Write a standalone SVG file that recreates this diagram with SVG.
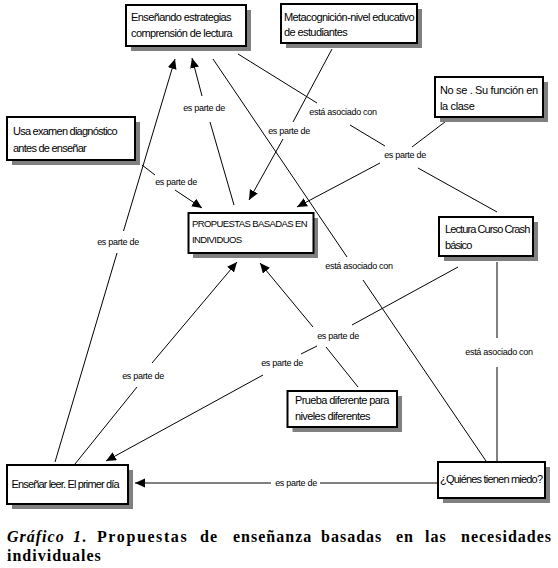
<svg xmlns="http://www.w3.org/2000/svg" width="558" height="568" viewBox="0 0 558 568">
<style>
.bg{fill:#fff}
.sh{fill:#808080}
.bx{fill:#fff;stroke:#000;stroke-width:2}
.nt{font-family:"Liberation Sans",Arial,sans-serif;font-size:11px;letter-spacing:-0.6px;fill:#000}
.sm{font-size:9.5px}
.ln{stroke:#000;stroke-width:1;fill:none}
.ar{marker-end:url(#arrow)}
.lb{font-family:"Liberation Sans",Arial,sans-serif;font-size:9px;letter-spacing:-0.3px;fill:#000;text-anchor:middle}
.cap{font-family:"Liberation Serif","Times New Roman",serif;font-size:16px;font-weight:bold;letter-spacing:1px;fill:#000}
</style>
<defs>
<marker id="arrow" markerUnits="userSpaceOnUse" markerWidth="11" markerHeight="10" refX="10" refY="4.5" orient="auto">
<path d="M0,0 L10,4.5 L0,9 z" fill="#000"/>
</marker>
</defs>
<rect class="bg" x="0" y="0" width="558" height="568"/>

<g id="connectors">
<!-- Usa examen -> PROPUESTAS -->
<line class="ln" x1="142" y1="165" x2="155" y2="175"/>
<line class="ln ar" x1="175" y1="190" x2="202" y2="208"/>
<text class="lb" x="176" y="185">es parte de</text>
<!-- Enseñar leer -> Enseñando (long) -->
<line class="ln" x1="55" y1="462" x2="117" y2="253"/>
<line class="ln ar" x1="123.5" y1="231" x2="175" y2="59"/>
<text class="lb" x="118" y="245">es parte de</text>
<!-- PROPUESTAS -> Enseñando -->
<line class="ln" x1="234" y1="205" x2="210" y2="122"/>
<line class="ln ar" x1="202" y1="96" x2="192" y2="58"/>
<text class="lb" x="204" y="111">es parte de</text>
<!-- Enseñando -> Lectura -->
<line class="ln" x1="238" y1="54" x2="317" y2="103"/>
<line class="ln" x1="350" y1="125" x2="385" y2="146"/>
<line class="ln" x1="418" y1="168" x2="497" y2="212"/>
<text class="lb" x="343" y="115">está asociado con</text>
<!-- No se -> PROPUESTAS -->
<line class="ln" x1="458" y1="112" x2="412" y2="147"/>
<line class="ln ar" x1="380" y1="163" x2="297" y2="207"/>
<text class="lb" x="405" y="158">es parte de</text>
<!-- Metacognicion -> PROPUESTAS -->
<line class="ln" x1="332" y1="49" x2="293" y2="122"/>
<line class="ln ar" x1="283" y1="139" x2="249" y2="200"/>
<text class="lb" x="289" y="134">es parte de</text>
<!-- Enseñando -> Quienes -->
<line class="ln" x1="213" y1="59" x2="347" y2="257"/>
<line class="ln" x1="363" y1="280" x2="486" y2="461"/>
<text class="lb" x="359" y="269">está asociado con</text>
<!-- Lectura -> Enseñar leer -->
<line class="ln" x1="458" y1="267" x2="352" y2="325"/>
<line class="ln" x1="317" y1="346" x2="301" y2="354"/>
<line class="ln ar" x1="263" y1="375" x2="106" y2="461"/>
<text class="lb" x="338" y="339">es parte de</text>
<text class="lb" x="282" y="366">es parte de</text>
<!-- Prueba -> PROPUESTAS -->
<line class="ln" x1="358" y1="387" x2="326" y2="347"/>
<line class="ln ar" x1="313" y1="327" x2="260" y2="263"/>
<!-- Enseñar leer -> PROPUESTAS -->
<line class="ln" x1="75" y1="464" x2="137" y2="387"/>
<line class="ln ar" x1="152" y1="363" x2="237" y2="262"/>
<text class="lb" x="143" y="379">es parte de</text>
<!-- Quienes -> Enseñar leer -->
<line class="ln" x1="438" y1="483" x2="320" y2="483"/>
<line class="ln ar" x1="271" y1="483" x2="135" y2="483"/>
<text class="lb" x="296" y="486">es parte de</text>
<!-- Lectura -> Quienes -->
<line class="ln" x1="497" y1="262" x2="497" y2="338"/>
<line class="ln" x1="497" y1="367" x2="497" y2="461"/>
<text class="lb" x="499" y="355">está asociado con</text>
</g>

<g id="node-ensenando">
<rect class="sh" x="131" y="10" width="120" height="41"/>
<rect class="bx" x="126" y="5" width="120" height="41"/>
<text class="nt" x="131" y="21">Enseñando estrategias</text>
<text class="nt" x="131" y="37">comprensión de lectura</text>
</g>

<g id="node-metacognicion">
<rect class="sh" x="286" y="9" width="136" height="39"/>
<rect class="bx" x="281" y="4" width="136" height="39"/>
<text class="nt" x="284" y="21">Metacognición-nivel educativo</text>
<text class="nt" x="284" y="36">de estudiantes</text>
</g>

<g id="node-usa-examen">
<rect class="sh" x="12" y="122" width="128" height="43"/>
<rect class="bx" x="7" y="117" width="128" height="43"/>
<text class="nt" x="13" y="135" style="letter-spacing:-0.75px">Usa examen diagnóstico</text>
<text class="nt" x="13" y="152" style="letter-spacing:-0.75px">antes de enseñar</text>
</g>

<g id="node-no-se">
<rect class="sh" x="440" y="82" width="108" height="40"/>
<rect class="bx" x="435" y="77" width="108" height="40"/>
<text class="nt" x="440" y="94" style="letter-spacing:-0.35px">No se . Su función en</text>
<text class="nt" x="440" y="110" style="letter-spacing:-0.35px">la clase</text>
</g>

<g id="node-propuestas">
<rect class="sh" x="193" y="218" width="125" height="40"/>
<rect class="bx" x="188.5" y="213" width="125" height="40"/>
<text class="nt sm" x="192" y="227">PROPUESTAS BASADAS EN</text>
<text class="nt sm" x="192" y="243">INDIVIDUOS</text>
</g>

<g id="node-lectura">
<rect class="sh" x="444" y="222" width="94" height="39"/>
<rect class="bx" x="439" y="217" width="94" height="39"/>
<text class="nt" x="445" y="233" style="letter-spacing:-0.9px">Lectura Curso Crash</text>
<text class="nt" x="445" y="249" style="letter-spacing:-0.9px">básico</text>
</g>

<g id="node-prueba">
<rect class="sh" x="292.5" y="396" width="109.5" height="36"/>
<rect class="bx" x="287.5" y="391" width="109.5" height="36"/>
<text class="nt" x="295" y="404">Prueba diferente para</text>
<text class="nt" x="295" y="420">niveles diferentes</text>
</g>

<g id="node-ensenar-leer">
<rect class="sh" x="12" y="470" width="121" height="39"/>
<rect class="bx" x="7" y="465" width="121" height="39"/>
<text class="nt" x="11.5" y="488" style="letter-spacing:-0.85px">Enseñar leer. El primer día</text>
</g>

<g id="node-quienes">
<rect class="sh" x="443" y="467" width="107" height="36"/>
<rect class="bx" x="438" y="462" width="107" height="36"/>
<text class="nt" x="440" y="483" style="letter-spacing:-0.8px">¿Quiénes tienen miedo?</text>
</g>

<g id="caption">
<text class="cap" y="542"><tspan x="7" font-style="italic">Gráfico</tspan><tspan x="73" font-style="italic">1</tspan><tspan>.</tspan><tspan x="97" style="letter-spacing:1.6px">Propuestas</tspan><tspan x="200">de</tspan><tspan x="233">enseñanza</tspan><tspan x="321">basadas</tspan><tspan x="396">en</tspan><tspan x="425">las</tspan><tspan x="461">necesidades</tspan></text>
<text class="cap" x="7" y="561">individuales</text>
</g>
</svg>
